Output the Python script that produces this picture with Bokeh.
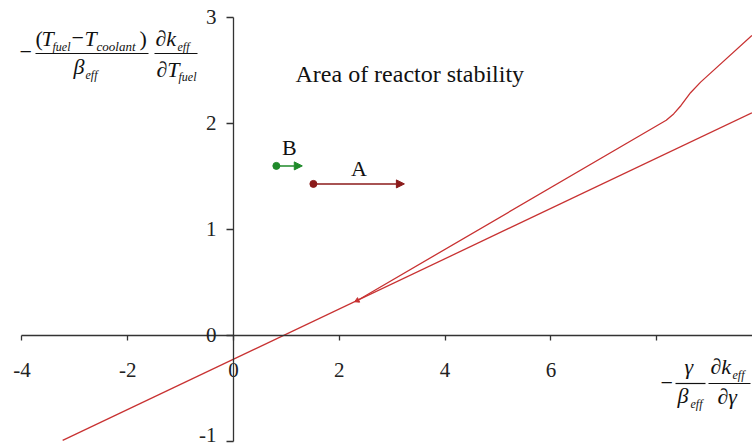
from bokeh.plotting import figure
from bokeh.models import Range1d, LinearAxis, FixedTicker, Label, Arrow, NormalHead
from bokeh.embed import file_html
from bokeh.resources import INLINE

# ---- data -------------------------------------------------------------
# stability boundary: straight branch and the upper (bending) branch
lower_x = [-3.23, 9.80]
lower_y = [-0.99, 2.10]
upper_x = [2.34, 8.18, 8.32, 8.46, 8.64, 8.83, 9.80]
upper_y = [0.33, 2.03, 2.09, 2.17, 2.29, 2.39, 2.83]

# operating-point shifts
arrow_labels = ["A", "B"]
arrow_x_start = [1.51, 0.81]
arrow_x_end = [3.23, 1.30]
arrow_y = [1.43, 1.60]
arrow_colors = ["#8b1a1a", "#1f8a2a"]

x_ticks = [-4, -2, 0, 2, 4, 6, 8]
x_tick_text = ["-4", "-2", "0", "2", "4", "6", ""]
y_ticks = [-1, 0, 1, 2, 3]
y_tick_text = ["", "0", "1", "2", "3"]   # "-1" is set separately near the edge

# ---- canvas / scales --------------------------------------------------
W, H = 752, 448
X0, X1 = -4.405, 9.811
Y0, Y1 = -1.066, 3.160

SERIF = "Liberation Serif"
RED = "#c83232"
AXIS = "#333333"
INK = "#111111"


def dx(px):
    return X0 + px * (X1 - X0) / W


def dy(py):
    return Y1 - py * (Y1 - Y0) / H


p = figure(width=W, height=H, x_range=Range1d(X0, X1), y_range=Range1d(Y0, Y1),
           x_axis_type=None, y_axis_type=None, toolbar_location=None,
           output_backend="svg", min_border=0, outline_line_color=None,
           background_fill_color="white", border_fill_color="white")

# axes crossing at the origin
xaxis = LinearAxis(fixed_location=0, ticker=FixedTicker(ticks=x_ticks),
                   bounds=(-4, X1),
                   major_label_overrides=dict(zip(x_ticks, x_tick_text)))
yaxis = LinearAxis(fixed_location=0, ticker=FixedTicker(ticks=y_ticks),
                   bounds=(-1, 3),
                   major_label_overrides=dict(zip(y_ticks, y_tick_text)))
for ax in (xaxis, yaxis):
    ax.axis_line_color = AXIS
    ax.axis_line_width = 1.3
    ax.major_tick_line_color = AXIS
    ax.major_tick_line_width = 1.3
    ax.major_tick_in = 0
    ax.minor_tick_line_color = None
    ax.major_label_text_font = SERIF
    ax.major_label_text_font_size = "21px"
    ax.major_label_text_color = "#222222"
xaxis.major_tick_out = 5
xaxis.major_label_standoff = 23
yaxis.major_tick_out = 7
yaxis.major_label_standoff = 10
p.add_layout(xaxis, "below")
p.add_layout(yaxis, "left")

# lowest y tick label, kept just inside the canvas
p.add_layout(Label(x=0, y=-1, x_offset=-17, y_offset=7, text="-1",
                   text_font=SERIF, text_font_size="21px", text_color="#222222",
                   text_align="right", text_baseline="middle"))

# boundary lines
p.line(lower_x, lower_y, line_color=RED, line_width=1.3)
p.line(upper_x, upper_y, line_color=RED, line_width=1.3)
p.scatter([upper_x[0]], [upper_y[0]], marker="triangle", size=5, angle=2.01,
          fill_color=RED, line_color=RED)

# operating-point arrows
for xs, xe, y, c in zip(arrow_x_start, arrow_x_end, arrow_y, arrow_colors):
    p.add_layout(Arrow(end=NormalHead(size=8, fill_color=c, line_color=c),
                       x_start=xs, y_start=y, x_end=xe, y_end=y,
                       line_color=c, line_width=1.5))
p.scatter(arrow_x_start, arrow_y, size=7, fill_color=arrow_colors, line_color=arrow_colors)

label_lift = {"A": 0.145, "B": 0.175}
for lab, xs, xe, y in zip(arrow_labels, arrow_x_start, arrow_x_end, arrow_y):
    p.add_layout(Label(x=(xs + xe) / 2, y=y + label_lift[lab], text=lab,
                       text_font=SERIF, text_font_size="22px", text_color=INK,
                       text_align="center", text_baseline="middle"))


# ---- text helpers -----------------------------------------------------
def put(txt, px, py, size=22, italic=True, baseline="alphabetic"):
    if baseline == "alphabetic":
        py = py - 0.38 * size   # label box sits below the requested baseline
    p.add_layout(Label(x=dx(px), y=dy(py), text=txt, text_font=SERIF,
                       text_font_size=f"{size}px", text_color=INK,
                       text_font_style="italic" if italic else "normal",
                       text_align="left", text_baseline=baseline))


def bar(px0, px1, py):
    p.segment(x0=[dx(px0)], y0=[dy(py)], x1=[dx(px1)], y1=[dy(py)],
              line_color=INK, line_width=1.2)


# region title
put("Area of reactor stability", 295, 83, size=24, italic=False)

# y-axis quantity: -(T_fuel - T_coolant)/beta_eff * dk_eff/dT_fuel
put("\u2212", 19, 51, italic=False, baseline="middle")
put("(", 35, 46, italic=False)
put("T", 41, 46)
put("fuel", 52, 51, size=12)
put("\u2212", 71, 46, italic=False)
put("T", 84, 46)
put("coolant", 96, 51, size=13)
put(")", 139, 46, italic=False)
bar(35, 148, 53)
put("\u03b2", 73, 74)
put("eff", 85, 79, size=12)
put("\u2202k", 155, 46)
put("eff", 177, 51, size=12)
bar(154, 197, 53)
put("\u2202T", 156, 77)
put("fuel", 178, 81, size=12)

# x-axis quantity: -gamma/beta_eff * dk_eff/dgamma
put("\u2212", 660, 382, italic=False, baseline="middle")
put("\u03b3", 684, 374)
bar(675, 705, 383)
put("\u03b2", 677, 403)
put("eff", 690, 408, size=12)
put("\u2202k", 710, 374)
put("eff", 732, 379, size=12)
bar(708, 750, 383)
put("\u2202\u03b3", 717, 404)

open("out.html", "w").write(file_html(p, INLINE))
